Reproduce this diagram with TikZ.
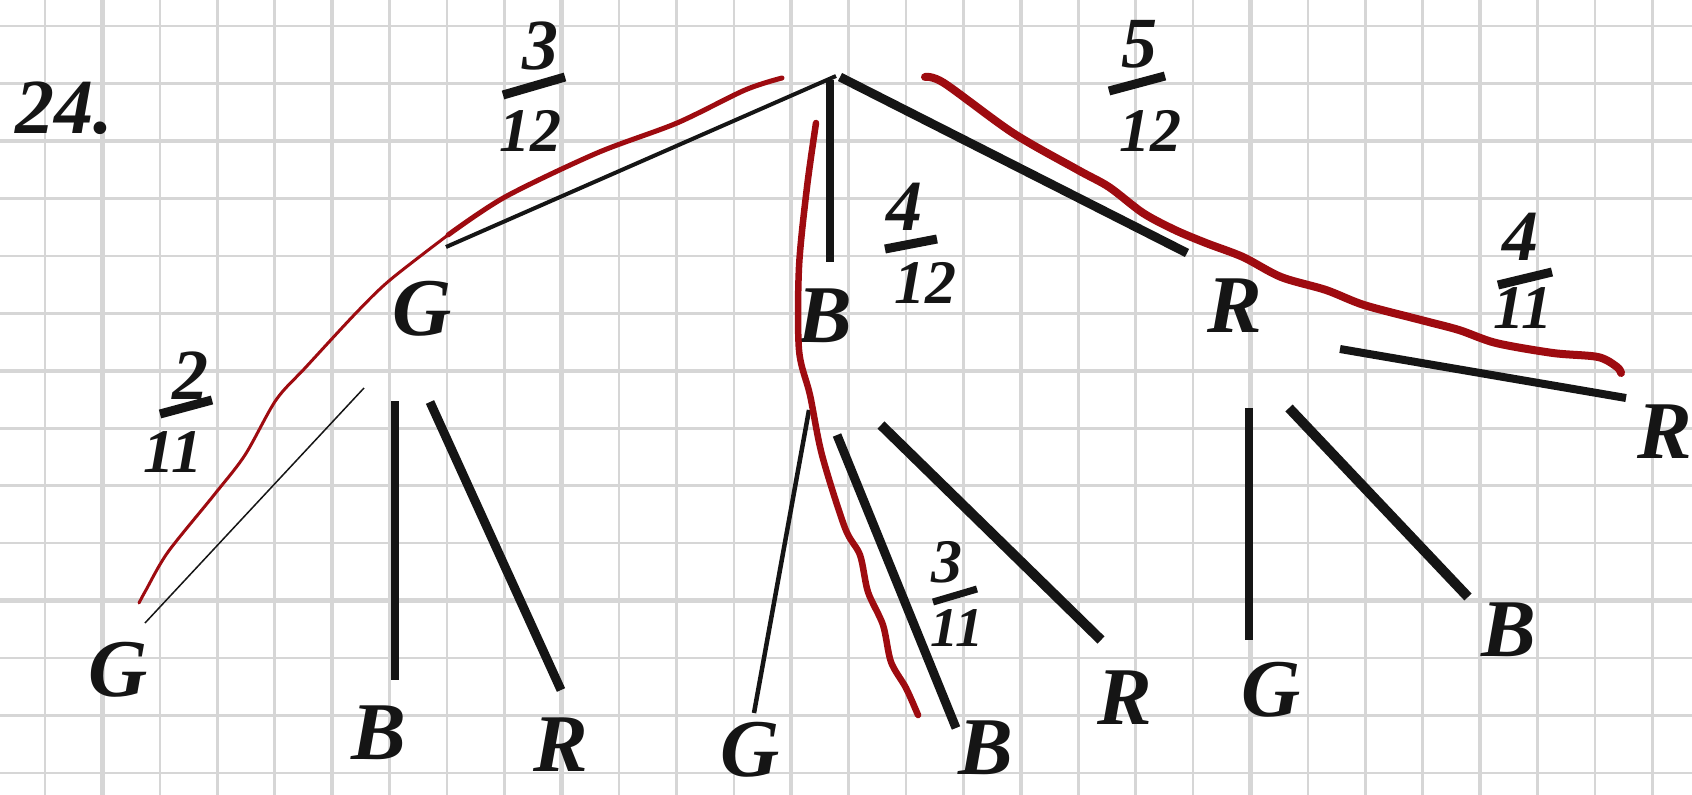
\documentclass[tikz,border=0pt]{standalone}
\usepackage{fontspec}
\setmainfont{Liberation Serif}
\definecolor{gridc}{HTML}{D6D6D6}
\definecolor{ink}{HTML}{151515}
\definecolor{redink}{HTML}{9E0B10}
\begin{document}
\begin{tikzpicture}[x=1pt,y=-1pt,
  lbl/.style={inner sep=0pt,text=ink,font=\fontsize{82}{82}\selectfont\bfseries\itshape},
  num/.style={inner sep=0pt,text=ink,font=\fontsize{62}{62}\selectfont\bfseries\itshape},
  bignum/.style={inner sep=0pt,text=ink,font=\fontsize{72}{72}\selectfont\bfseries\itshape},
  br/.style={draw=ink,line cap=butt},
  fbar/.style={draw=ink,line width=9pt,line cap=butt},
  hl/.style={draw=redink,line cap=round,line join=round}]
\useasboundingbox (0,0) rectangle (1692,795);
\fill[white] (0,0) rectangle (1692,795);
% grid
\foreach \i in {0,...,28}{
  \pgfmathsetmacro{\gx}{45+57.4*\i}
  \pgfmathtruncatemacro{\m}{mod(\i,4)}
  \ifnum\m=1 \draw[gridc,line width=4.5pt] (\gx,0) -- (\gx,795);
  \else \draw[gridc,line width=2.6pt] (\gx,0) -- (\gx,795); \fi
}
\foreach \j in {0,...,13}{
  \pgfmathsetmacro{\gy}{26+57.46*\j}
  \pgfmathtruncatemacro{\m}{mod(\j,4)}
  \ifnum\m=2 \draw[gridc,line width=4.5pt] (0,\gy) -- (1692,\gy);
  \else \draw[gridc,line width=2.6pt] (0,\gy) -- (1692,\gy); \fi
}
% problem number
\node[lbl,font=\fontsize{78}{78}\selectfont\bfseries\itshape] (num24) at (64,108) {24.};
% labels
\node[lbl] (G) at (422,309) {G};
\node[lbl] (B) at (825,316) {B};
\node[lbl] (R) at (1235,306) {R};
\node[lbl] (GG) at (118,670) {G};
\node[lbl] (GB) at (379,733) {B};
\node[lbl] (GR) at (561,745) {R};
\node[lbl] (BG) at (750,750) {G};
\node[lbl] (BB) at (986,748) {B};
\node[lbl] (BR) at (1125,698) {R};
\node[lbl] (RG) at (1271,690) {G};
\node[lbl] (RB) at (1509,630) {B};
\node[lbl] (RR) at (1665,432) {R};
% endpoints
\coordinate (root) at (836,76);
\coordinate (rGe) at (446,247);
\coordinate (rBs) at (830,80);
\coordinate (rBe) at (830,262);
\coordinate (rRs) at (840,77);
\coordinate (rRe) at (1187,253);
\coordinate (gGs) at (364,388); \coordinate (gGe) at (145,623);
\coordinate (gBs) at (395,401); \coordinate (gBe) at (395,680);
\coordinate (gRs) at (430,402); \coordinate (gRe) at (561,690);
\coordinate (bGs) at (809,410); \coordinate (bGe) at (754,713);
\coordinate (bBs) at (837,435); \coordinate (bBe) at (956,728);
\coordinate (bRs) at (881,425); \coordinate (bRe) at (1101,640);
\coordinate (qRs) at (1340,349); \coordinate (qRe) at (1626,398);
\coordinate (qGs) at (1249,408); \coordinate (qGe) at (1249,640);
\coordinate (qBs) at (1289,408); \coordinate (qBe) at (1468,597);
% branches
\draw[br,line width=4pt] (root) -- (rGe);
\draw[br,line width=8.5pt] (rBs) -- (rBe);
\draw[br,line width=9pt] (rRs) -- (rRe);
\draw[br,line width=1.5pt] (gGs) -- (gGe);
\draw[br,line width=8.5pt] (gBs) -- (gBe);
\draw[br,line width=9pt] (gRs) -- (gRe);
\draw[br,line width=4.5pt] (bGs) -- (bGe);
\draw[br,line width=9pt] (bBs) -- (bBe);
\draw[br,line width=10pt] (bRs) -- (bRe);
\draw[br,line width=8pt] (qRs) -- (qRe);
\draw[br,line width=8pt] (qGs) -- (qGe);
\draw[br,line width=10pt] (qBs) -- (qBe);
% red highlights
\draw[hl,line width=3pt] plot[smooth,tension=0.5] coordinates {(139,603) (146,590) (168,552) (214,495) (245,455) (276,400) (306,367) (356,313) (390,280) (448,235)};
\draw[hl,line width=5pt] plot[smooth,tension=0.5] coordinates {(448,235) (505,197) (597,153) (677,123) (745,90) (782,78)};
\draw[hl,line width=6.5pt] plot[smooth,tension=0.5] coordinates {(816,123) (807,187) (799,267) (799,350) (810,395) (822,455) (845,528) (860,555) (868,592) (883,625) (891,662) (906,688) (918,715)};
\draw[hl,line width=8pt] plot[smooth,tension=0.5] coordinates {(925,77) (944,83) (1013,133) (1078,170) (1109,187) (1143,213) (1175,230) (1206,243) (1243,257) (1281,277) (1326,290) (1364,305) (1421,320) (1459,330) (1496,343) (1553,353) (1598,357) (1617,367) (1621,373)};
% fractions
\node[bignum] (f1n) at (540,46) {3};
\draw[fbar] (503,95) -- (565,77);
\node[num] (f1d) at (530,131) {12};
\node[bignum] (f2n) at (1139,44) {5};
\draw[fbar] (1109,91) -- (1165,76);
\node[num] (f2d) at (1150,131) {12};
\node[bignum] (f3n) at (904,207) {4};
\draw[fbar] (885,249) -- (937,239);
\node[num] (f3d) at (925,283) {12};
\node[bignum] (f4n) at (1520,237) {4};
\draw[fbar] (1498,285) -- (1552,272);
\node[num] (f4d) at (1523,308) {11};
\node[bignum] (f5n) at (190,376) {2};
\draw[fbar] (160,414) -- (212,400);
\node[num] (f5d) at (173,452) {11};
\node[num] (f6n) at (947,562) {3};
\draw[fbar,line width=7pt] (933,602) -- (977,589);
\node[num,font=\fontsize{56}{56}\selectfont\bfseries\itshape] (f6d) at (957,628) {11};
\end{tikzpicture}
\end{document}
